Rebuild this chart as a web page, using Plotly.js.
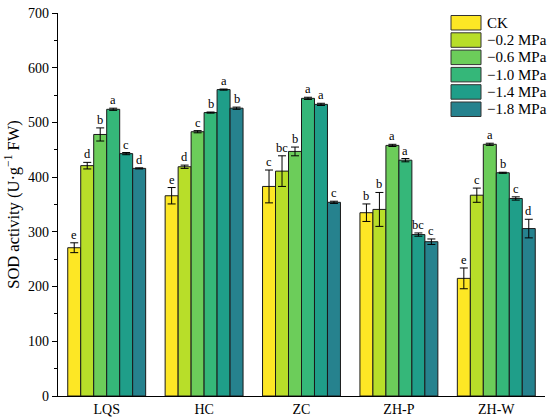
<!DOCTYPE html>
<html>
<head>
<meta charset="utf-8">
<script src="https://cdn.plot.ly/plotly-3.0.1.min.js"></script>
<style>html,body{margin:0;padding:0;background:#fff;}#chart{width:550px;height:420px;}</style>
</head>
<body>
<div id="chart"></div>
<script>
const categories = ["LQS", "HC", "ZC", "ZH-P", "ZH-W"];
const seriesNames = ["CK", "\u22120.2 MPa", "\u22120.6 MPa", "\u22121.0 MPa", "\u22121.4 MPa", "\u22121.8 MPa"];
const colors = ["#FDE725", "#B8DE29", "#6CCD5A", "#35B779", "#1F9E89", "#26828E"];

const valCK   = [271, 366, 383, 335, 215];
const val02   = [421, 419, 411, 341, 367];
const val06   = [478, 483, 447, 458, 460];
const val10   = [524, 518, 544, 431, 408];
const val14   = [443, 560, 533, 295, 361];
const val18   = [416, 526, 354, 282, 306];

const errCK   = [9, 15, 30, 16, 19];
const err02   = [6, 3, 28, 31, 13];
const err06   = [12, 2, 8, 2, 2];
const err10   = [2, 1, 2, 3, 1];
const err14   = [2, 1, 2, 3, 3];
const err18   = [1, 2, 2, 5, 17];

const letCK   = ["e", "e", "c", "b", "e"];
const let02   = ["d", "d", "bc", "b", "c"];
const let06   = ["b", "c", "b", "a", "a"];
const let10   = ["a", "b", "a", "a", "b"];
const let14   = ["c", "a", "a", "bc", "c"];
const let18   = ["d", "b", "c", "c", "d"];

const values = [valCK, val02, val06, val10, val14, val18];
const errors = [errCK, err02, err06, err10, err14, err18];
const letters = [letCK, let02, let06, let10, let14, let18];

const W = 550, H = 420;
const M = {l: 58, r: 5, t: 13, b: 24};
const plotW = W - M.l - M.r, plotH = H - M.t - M.b;

const bargap = 0.2;
const nS = seriesNames.length;
const bw = (1 - bargap) / nS;
const serif = "Liberation Serif, Times New Roman, serif";

const traces = values.map((v, j) => ({
  type: "bar",
  name: seriesNames[j],
  x: categories,
  y: v,
  showlegend: false,
  marker: {color: colors[j], line: {color: "#1a1a1a", width: 1}},
  error_y: {type: "data", array: errors[j], visible: true, color: "#000", thickness: 1, width: 4}
}));

const annotations = [];
values.forEach((v, j) => {
  v.forEach((val, i) => {
    annotations.push({
      x: i + (j - (nS - 1) / 2) * bw,
      y: val + errors[j][i],
      xref: "x", yref: "y",
      text: letters[j][i],
      showarrow: false,
      yanchor: "bottom",
      yshift: -1,
      font: {family: serif, size: 12.5, color: "#000"}
    });
  });
});

// Legend (swatches + labels) in paper coordinates
const shapes = [];
const legLeftPx = 451, legSwW = 30, legSwH = 14.5, legTopPx = 15.5, legStep = 17.3;
const px2x = p => (p - M.l) / plotW;
const px2y = p => 1 - (p - M.t) / plotH;
seriesNames.forEach((name, j) => {
  const top = legTopPx + j * legStep;
  shapes.push({
    type: "rect", xref: "paper", yref: "paper",
    x0: px2x(legLeftPx), x1: px2x(legLeftPx + legSwW),
    y0: px2y(top + legSwH), y1: px2y(top),
    fillcolor: colors[j], line: {color: "#333", width: 1}
  });
  annotations.push({
    xref: "paper", yref: "paper",
    x: px2x(legLeftPx + legSwW + 4), y: px2y(top + legSwH / 2),
    xanchor: "left", yanchor: "middle",
    text: name, showarrow: false,
    font: {family: serif, size: 15, color: "#000"}
  });
});

const layout = {
  width: W, height: H,
  margin: M,
  paper_bgcolor: "#fff", plot_bgcolor: "#fff",
  barmode: "group", bargap: bargap, bargroupgap: 0,
  font: {family: serif, size: 14, color: "#000"},
  xaxis: {
    type: "category",
    showline: true, linecolor: "#000", linewidth: 1.3,
    ticks: "", showgrid: false, zeroline: false,
    tickfont: {family: serif, size: 14, color: "#000"}
  },
  yaxis: {
    range: [0, 700], dtick: 100,
    showline: true, linecolor: "#000", linewidth: 1.3,
    ticks: "outside", ticklen: 5, tickwidth: 1, tickcolor: "#000",
    minor: {dtick: 50, ticks: "outside", ticklen: 3, tickwidth: 1, tickcolor: "#000"},
    showgrid: false, zeroline: false,
    tickfont: {family: serif, size: 14, color: "#000"},
    title: {text: "SOD activity (U\u00b7g<sup>\u22121</sup> FW)", font: {family: serif, size: 16.5, color: "#000"}, standoff: 4}
  },
  showlegend: false,
  shapes: shapes,
  annotations: annotations
};

Plotly.newPlot("chart", traces, layout, {displayModeBar: false, staticPlot: true});
</script>
</body>
</html>
